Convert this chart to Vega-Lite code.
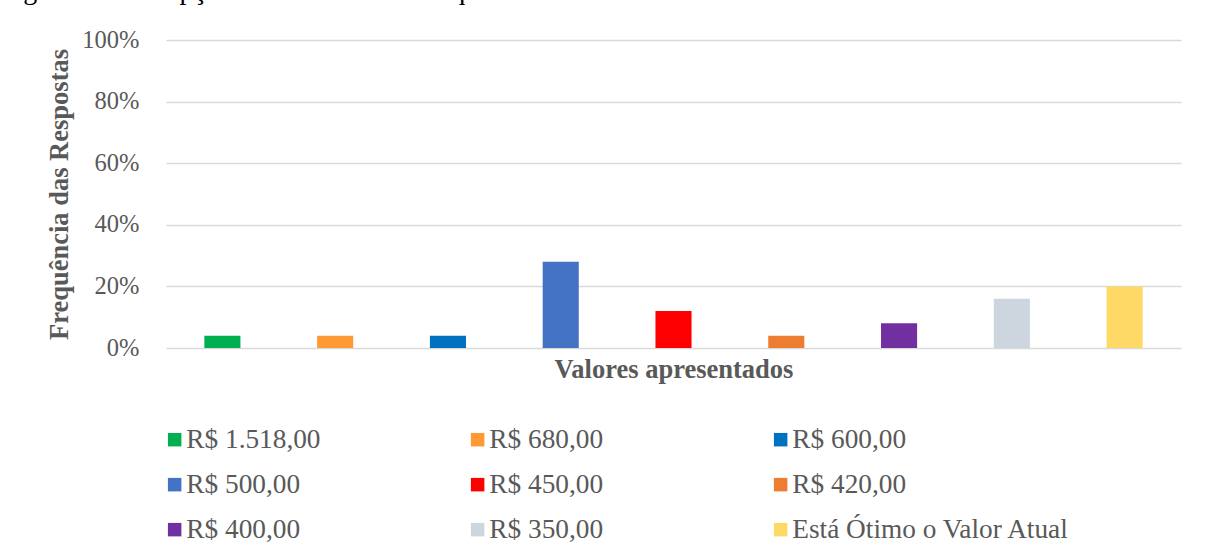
{
  "$schema": "https://vega.github.io/schema/vega-lite/v6.json",
  "width": 1015,
  "height": 308,
  "autosize": {"type": "none"},
  "padding": {"left": 166, "top": 40, "right": 27, "bottom": 208},
  "background": "white",
  "title": {
    "text": "Figura 8 - Percepções sobre o Valor Adequado da Assistência Estudantil",
    "anchor": "start",
    "frame": "group",
    "dx": -166,
    "offset": 0,
    "baseline": "alphabetic",
    "font": "Liberation Serif",
    "fontSize": 28,
    "fontWeight": "normal",
    "color": "#000000"
  },
  "data": {
    "values": [
      {"categoria": "R$ 1.518,00", "frequencia": 0.04},
      {"categoria": "R$ 680,00", "frequencia": 0.04},
      {"categoria": "R$ 600,00", "frequencia": 0.04},
      {"categoria": "R$ 500,00", "frequencia": 0.28},
      {"categoria": "R$ 450,00", "frequencia": 0.12},
      {"categoria": "R$ 420,00", "frequencia": 0.04},
      {"categoria": "R$ 400,00", "frequencia": 0.08},
      {"categoria": "R$ 350,00", "frequencia": 0.16},
      {"categoria": "Está Ótimo o Valor Atual", "frequencia": 0.20}
    ]
  },
  "mark": {"type": "bar"},
  "encoding": {
    "x": {
      "field": "categoria",
      "type": "nominal",
      "sort": null,
      "scale": {"paddingInner": 0.68, "paddingOuter": 0.34},
      "axis": {
        "title": "Valores apresentados",
        "labels": false,
        "ticks": false,
        "domain": false,
        "grid": false,
        "titlePadding": 8,
        "titleFont": "Liberation Serif",
        "titleFontSize": 26.5,
        "titleFontWeight": "bold",
        "titleColor": "#595959"
      }
    },
    "y": {
      "field": "frequencia",
      "type": "quantitative",
      "scale": {"domain": [0, 1], "nice": false},
      "axis": {
        "title": "Frequência das Respostas",
        "format": ".0%",
        "values": [0, 0.2, 0.4, 0.6, 0.8, 1],
        "domain": false,
        "ticks": false,
        "tickSize": 0,
        "labelPadding": 27,
        "labelFont": "Liberation Serif",
        "labelFontSize": 24.5,
        "labelColor": "#595959",
        "grid": true,
        "gridColor": "#d9d9d9",
        "gridWidth": 1.5,
        "titlePadding": 8,
        "titleFont": "Liberation Serif",
        "titleFontSize": 26.5,
        "titleFontWeight": "bold",
        "titleColor": "#595959"
      }
    },
    "color": {
      "field": "categoria",
      "type": "nominal",
      "sort": null,
      "scale": {
        "domain": ["R$ 1.518,00", "R$ 680,00", "R$ 600,00", "R$ 500,00", "R$ 450,00", "R$ 420,00", "R$ 400,00", "R$ 350,00", "Está Ótimo o Valor Atual"],
        "range": ["#00b050", "#ff9933", "#0070c0", "#4472c4", "#ff0000", "#ed7d31", "#7030a0", "#cdd5df", "#ffd966"]
      },
      "legend": {
        "title": null,
        "orient": "none",
        "direction": "horizontal",
        "legendX": -5,
        "legendY": 386,
        "columns": 3,
        "gridAlign": "all",
        "columnPadding": 0,
        "rowPadding": 17,
        "symbolType": "square",
        "symbolSize": 182,
        "symbolStrokeWidth": 0,
        "labelOffset": -2,
        "labelLimit": 400,
        "labelFont": "Liberation Serif",
        "labelFontSize": 27.3,
        "labelColor": "#595959"
      }
    }
  },
  "config": {
    "view": {"stroke": null}
  }
}
